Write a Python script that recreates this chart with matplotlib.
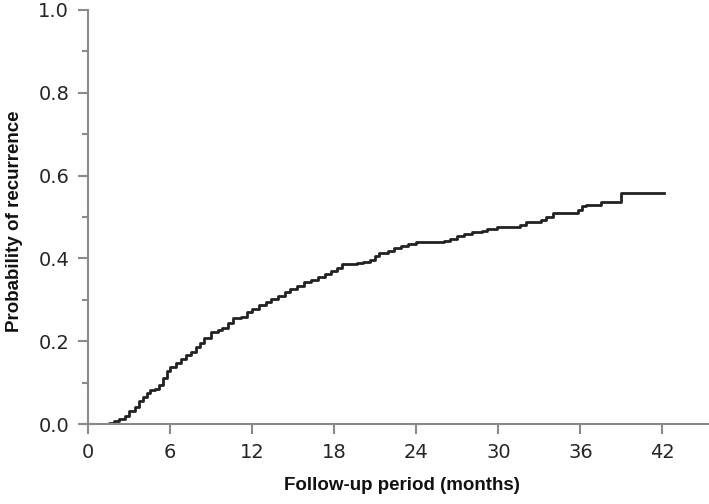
import matplotlib.pyplot as plt
from matplotlib.ticker import MultipleLocator, FormatStrFormatter

# step curve: (months, cumulative probability of recurrence)
months = [0, 1.5, 1.9, 2.3, 2.7, 3.0, 3.4, 3.7, 4.0, 4.3, 4.5, 4.9, 5.2, 5.5,
          5.8, 6.0, 6.4, 6.8, 7.2, 7.5, 7.9, 8.2, 8.5, 9.0, 9.5, 9.8, 10.2,
          10.6, 11.2, 11.6, 12.0, 12.5, 13.0, 13.4, 13.9, 14.4, 14.8, 15.3,
          15.8, 16.3, 16.8, 17.3, 17.8, 18.2, 18.6, 19.7, 20.1, 20.6, 21.0,
          21.3, 21.9, 22.4, 22.9, 23.4, 24.0, 26.0, 26.5, 27.0, 27.5, 28.1,
          28.8, 29.2, 29.9, 31.6, 32.0, 33.1, 33.5, 34.0, 35.8, 36.1, 36.4,
          37.5, 39.0, 42.1]
prob = [0.0, 0.003, 0.008, 0.013, 0.02, 0.032, 0.042, 0.055, 0.066, 0.075,
        0.082, 0.084, 0.095, 0.11, 0.128, 0.138, 0.147, 0.157, 0.166, 0.175,
        0.185, 0.195, 0.208, 0.222, 0.228, 0.232, 0.245, 0.255, 0.258, 0.27,
        0.278, 0.287, 0.295, 0.302, 0.31, 0.318, 0.325, 0.334, 0.342, 0.349,
        0.355, 0.362, 0.37, 0.378, 0.386, 0.389, 0.392, 0.396, 0.405, 0.414,
        0.419, 0.425, 0.43, 0.435, 0.44, 0.443, 0.448, 0.453, 0.458, 0.463,
        0.467, 0.471, 0.475, 0.48, 0.488, 0.492, 0.499, 0.51, 0.518, 0.527,
        0.529, 0.537, 0.558, 0.558]

xticks = [0, 6, 12, 18, 24, 30, 36, 42]

fig = plt.figure(figsize=(7.09, 5.04), dpi=100)
ax = fig.add_axes([88 / 709, 80 / 504, 621 / 709, 414 / 504])

ax.plot(months, prob, drawstyle='steps-post', color='#222222', lw=2.0)

ax.set_xlim(0, 45.4)
ax.set_ylim(0, 1.0)
ax.set_xticks(xticks)
ax.yaxis.set_major_locator(MultipleLocator(0.2))
ax.yaxis.set_minor_locator(MultipleLocator(0.1))
ax.yaxis.set_major_formatter(FormatStrFormatter('%.1f'))

grey = '#8a8a8a'
for s in ['top', 'right']:
    ax.spines[s].set_visible(False)
for s in ['left', 'bottom']:
    ax.spines[s].set_color(grey)
    ax.spines[s].set_linewidth(1.5)

ax.tick_params(which='major', direction='out', length=7.5, width=1.5,
               color=grey, labelsize=14, labelcolor='#262626', pad=6)
ax.tick_params(which='minor', direction='out', length=4.5, width=1.5, color=grey)
for lab in ax.get_xticklabels() + ax.get_yticklabels():
    lab.set_family('DejaVu Sans')

label_font = dict(family=['DejaVu Sans Condensed', 'Liberation Sans Narrow', 'Liberation Sans'],
                  weight='bold', size=13.5, color='#111111')
ax.set_xlabel('Follow-up period (months)', **label_font)
ax.set_ylabel('Probability of recurrence', **label_font)
ax.xaxis.set_label_coords(0.505, -0.128)
ax.yaxis.set_label_coords(-0.105, 0.49)

fig.savefig('out.png', dpi=100)
